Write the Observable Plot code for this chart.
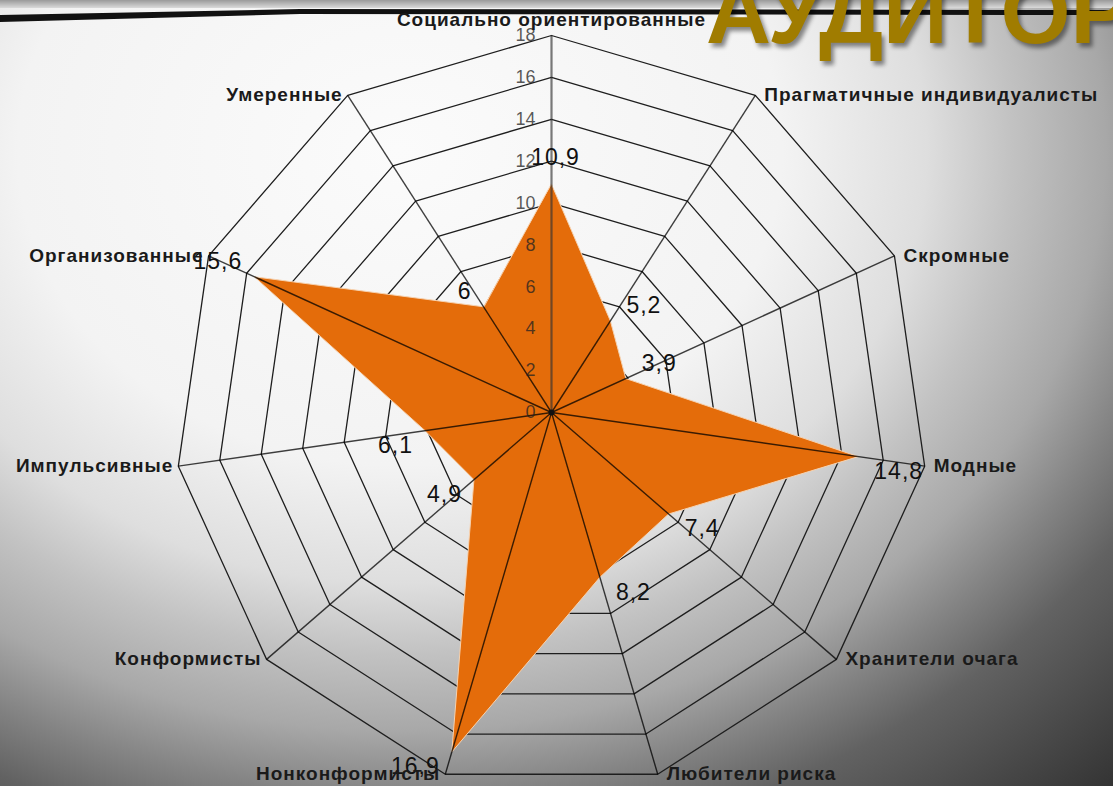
<!DOCTYPE html>
<html><head><meta charset="utf-8">
<script src="https://cdn.jsdelivr.net/npm/d3@7"></script>
<script src="https://cdn.jsdelivr.net/npm/@observablehq/plot@0.6"></script>
<style>
html,body{margin:0;padding:0;width:1113px;height:786px;overflow:hidden}
body{position:relative;background:radial-gradient(850px 700px at 400px 150px,#fbfbfb 0%,#f3f3f3 45%,#dedede 62%,#c2c2c2 72%,#a8a8a8 83%,#848484 92%,#626262 101%,#333333 124%);font-family:"Liberation Sans",Arial,sans-serif}
#topband{position:absolute;left:0;top:0;width:1113px;height:8px;background:linear-gradient(#9a9a9a,#dadada)}
#rule{position:absolute;left:0;top:0;width:1113px;height:24px;background:#111;clip-path:polygon(0 15px,300px 9px,1113px 10px,1113px 15px,300px 14px,0 22px)}
#chart{position:absolute;left:0;top:0}
#title{position:absolute;left:706px;top:-33px;font:bold 90px "Liberation Sans",Arial,sans-serif;color:#a07c00;text-shadow:3px 4px 4px rgba(0,0,0,0.45);white-space:nowrap;line-height:1}
g[font-size="19"] text{letter-spacing:1px}
g[font-size="23"] text{letter-spacing:1px}
</style></head>
<body>
<div id="topband"></div>
<div id="rule"></div>
<div id="chart"></div>
<div id="title">АУДИТОР</div>
<script>
const categories = ["Социально ориентированные", "Прагматичные индивидуалисты", "Скромные", "Модные", "Хранители очага", "Любители риска", "Нонконформисты", "Конформисты", "Импульсивные", "Организованные", "Умеренные"];
const values = [10.9, 5.2, 3.9, 14.8, 7.4, 8.2, 16.9, 4.9, 6.1, 15.6, 6];
const valueLabels = ["10,9", "5,2", "3,9", "14,8", "7,4", "8,2", "16,9", "4,9", "6,1", "15,6", "6"];
const tickValues = [0, 2, 4, 6, 8, 10, 12, 14, 16, 18];

const W = 1113, H = 786, cx = 551, cy = 412;
const maxV = 18;
const k = 377 / maxV;
const n = categories.length;
const ang = i => 2 * Math.PI * i / n;
const px = (i, r) => r * Math.sin(ang(i));
const py = (i, r) => r * Math.cos(ang(i));

const rings = tickValues.filter(t => t > 0).flatMap(t => categories.map((c, i) => ({level: t, x: px(i, t), y: py(i, t)})));
const spokes = categories.map((c, i) => ({i, x: px(i, maxV), y: py(i, maxV), label: c, s: Math.sin(ang(i)), c: Math.cos(ang(i))}));
const poly = values.map((v, i) => ({x: px(i, v), y: py(i, v)}));
const pts = values.map((v, i) => ({i, x: px(i, v), y: py(i, v), text: valueLabels[i], s: Math.sin(ang(i)), c: Math.cos(ang(i))}));

const valMark = (f, o) => Plot.text(pts.filter(f), {x: "x", y: "y", text: "text", fontSize: 23, fill: "#111", ...o});
const catMark = (f, o) => Plot.text(spokes.filter(f), {x: "x", y: "y", text: "label", fontSize: 19, fontWeight: "bold", fill: "#1a1a1a", ...o});

const chart = Plot.plot({
  width: W, height: H, margin: 0,
  x: {domain: [-cx / k, (W - cx) / k], axis: null},
  y: {domain: [-(H - cy) / k, cy / k], axis: null},
  style: {background: "transparent", fontFamily: "'Liberation Sans', Arial, sans-serif", overflow: "visible"},
  marks: [
    Plot.line(rings, {x: "x", y: "y", z: "level", curve: "linear-closed", stroke: "#1e1e1e", strokeWidth: 1.3}),
    Plot.line(poly, {x: "x", y: "y", curve: "linear-closed", fill: "#e46c0a", stroke: "#f6d2b0", strokeWidth: 1}),
    Plot.link(spokes.filter(d => d.i > 0), {x1: 0, y1: 0, x2: "x", y2: "y", stroke: "#000", strokeOpacity: 0.75, strokeWidth: 1.4}),
    Plot.link(spokes.filter(d => d.i === 0), {x1: 0, y1: 0, x2: "x", y2: "y", stroke: "#333", strokeOpacity: 0.65, strokeWidth: 2.2}),
    Plot.dot([0], {x: 0, y: 0, r: 3, fill: "#111"}),
    Plot.text(tickValues, {x: 0, y: d => d, text: d => String(d), textAnchor: "end", dx: -16, fontSize: 18, fill: "#222", fillOpacity: 0.75}),
    valMark(d => d.i === 0, {textAnchor: "middle", dx: 4, dy: -27}),
    valMark(d => d.i > 0 && d.s > 0 && d.c > 0, {textAnchor: "start", dx: 16, dy: -15}),
    valMark(d => d.i > 0 && d.s > 0 && d.c <= 0, {textAnchor: "start", dx: 16, dy: 15}),
    valMark(d => d.s < 0 && d.c <= 0, {textAnchor: "end", dx: -12, dy: 15}),
    valMark(d => d.s < 0 && d.c > 0, {textAnchor: "end", dx: -12, dy: -15}),
    catMark(d => d.i === 0, {textAnchor: "middle", dy: -16}),
    catMark(d => d.i > 0 && d.s > 0, {textAnchor: "start", dx: 9}),
    catMark(d => d.s < 0, {textAnchor: "end", dx: -5})
  ]
});
document.getElementById("chart").appendChild(chart);
</script>
</body></html>
